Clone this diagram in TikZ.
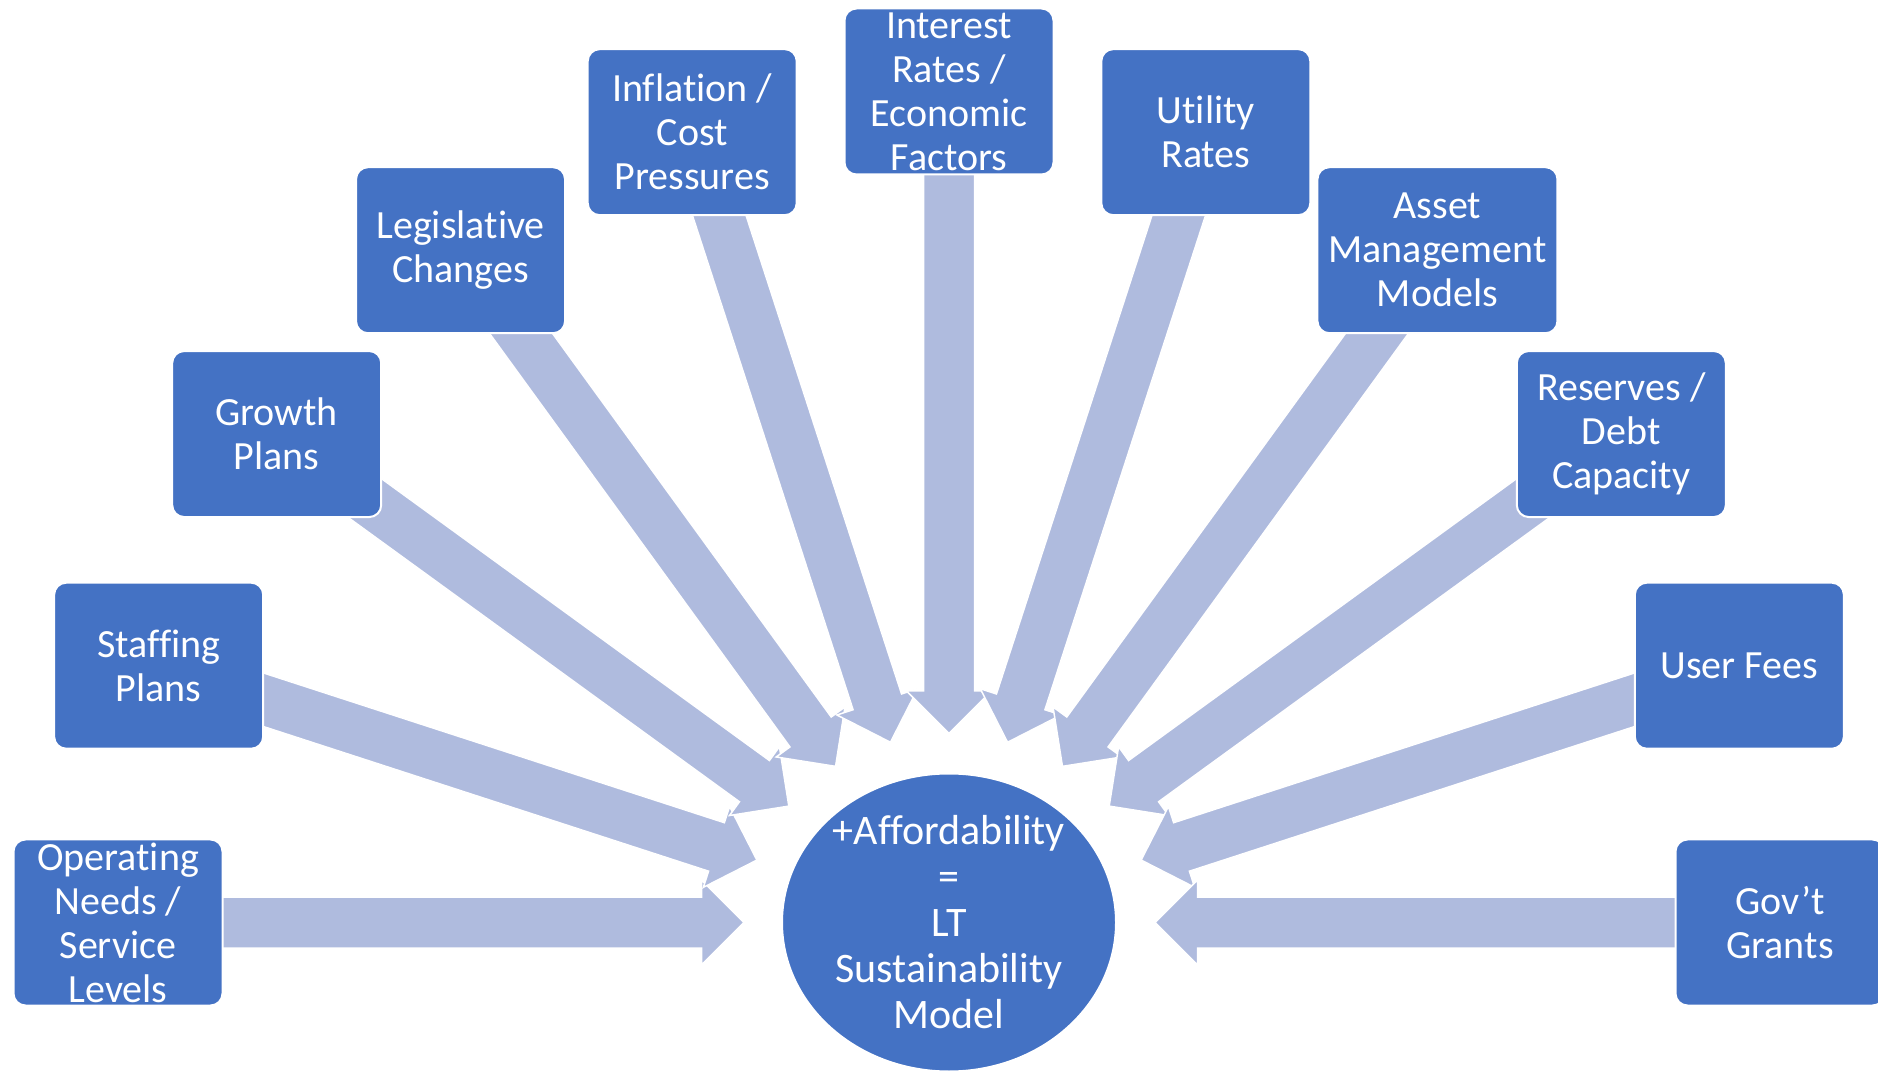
\documentclass[tikz,border=0pt]{standalone}
\usepackage{fontspec}
\setmainfont{Carlito}[Ligatures={NoCommon}]
\usetikzlibrary{calc,shapes.geometric}
\definecolor{boxblue}{RGB}{68,114,196}
\definecolor{arrowblue}{RGB}{175,187,222}
\pgfdeclarelayer{bg}
\pgfdeclarelayer{paper}
\pgfsetlayers{paper,bg,main}
\tikzset{
  box/.style={rectangle, rounded corners=12pt, fill=boxblue, draw=white, line width=2pt,
    minimum width=209pt, minimum height=166pt, inner xsep=0pt, inner ysep=-12pt,
    text=white, align=center, font=\fontsize{40}{44}\selectfont},
  hubstyle/.style={ellipse, fill=boxblue, draw=white, line width=2pt,
    minimum width=334pt, minimum height=298pt, inner sep=0pt},
  hubtext/.style={text=white, align=center, inner sep=0pt, font=\fontsize{42}{46}\selectfont},
  arrowshape/.style={fill=arrowblue, draw=white, line width=1.5pt, line join=miter}
}
% #1 = box node, #2 = distance of the tip from the hub centre
\newcommand{\blockarrow}[2]{%
  \coordinate (tip-#1) at ($(hub.center)!#2!(#1.center)$);
  \coordinate (hb-#1) at ($(tip-#1)!42.5pt!(#1.center)$);
  \path[arrowshape]
    ($(#1.center)!25.5pt!90:(hub.center)$) --
    ($(hb-#1)!25.5pt!-90:(#1.center)$) --
    ($(hb-#1)!42.5pt!-90:(#1.center)$) --
    (tip-#1) --
    ($(hb-#1)!42.5pt!90:(#1.center)$) --
    ($(hb-#1)!25.5pt!90:(#1.center)$) --
    ($(#1.center)!25.5pt!-90:(hub.center)$) -- cycle;}
\begin{document}
\begin{tikzpicture}[x=1pt,y=1pt]
\clip (0,0) rectangle (1878,1071);
\begin{pgfonlayer}{paper}
\fill[white] (0,0) rectangle (1878,1071);
\end{pgfonlayer}
\node[hubstyle] (hub) at (949,148.5) {};
\node[hubtext] (hubt) at (hub.center) {+Affordability\\=\\LT\\Sustainability\\Model};
\node[box] (b1) at ($(hub.center)+(180:831pt)$) {Operating\\Needs /\\Service\\Levels};
\node[box] (b2) at ($(hub.center)+(162:831pt)$) {Staffing\\Plans};
\node[box] (b3) at ($(hub.center)+(144:831pt)$) {Growth\\Plans};
\node[box] (b4) at ($(hub.center)+(126:831pt)$) {Legislative\\Changes};
\node[box] (b5) at ($(hub.center)+(108:831pt)$) {Inflation /\\Cost\\Pressures};
\node[box] (b6) at ($(hub.center)+(90:831pt)$) {Interest\\Rates /\\Economic\\Factors};
\node[box] (b7) at ($(hub.center)+(72:831pt)$) {Utility\\Rates};
\node[box, minimum width=240pt] (b8) at ($(hub.center)+(54:831pt)$) {Asset\\Management\\Models};
\node[box] (b9) at ($(hub.center)+(36:831pt)$) {Reserves /\\Debt\\Capacity};
\node[box] (b10) at ($(hub.center)+(18:831pt)$) {User Fees};
\node[box] (b11) at ($(hub.center)+(0:831pt)$) {Gov’t\\Grants};
\begin{pgfonlayer}{bg}
\blockarrow{b1}{205pt}
\blockarrow{b2}{202pt}
\blockarrow{b3}{198pt}
\blockarrow{b4}{193pt}
\blockarrow{b5}{189.5pt}
\blockarrow{b6}{189pt}
\blockarrow{b7}{189.5pt}
\blockarrow{b8}{193pt}
\blockarrow{b9}{198pt}
\blockarrow{b10}{202pt}
\blockarrow{b11}{206pt}
\end{pgfonlayer}
\end{tikzpicture}
\end{document}
